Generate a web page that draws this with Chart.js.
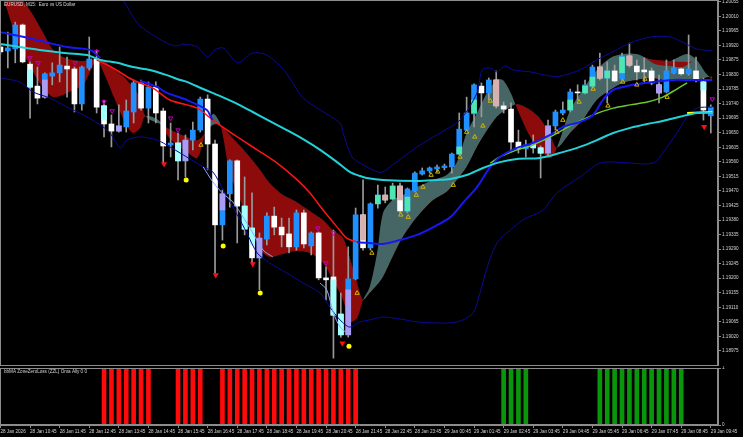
<!DOCTYPE html>
<html>
<head>
<meta charset="utf-8">
<script src="https://cdn.jsdelivr.net/npm/chart.js@4.4.1/dist/chart.umd.min.js"></script>
<style>
  html, body { margin: 0; padding: 0; background: #000; }
  body { width: 743px; height: 437px; position: relative; overflow: hidden; }
  #main { position: absolute; left: 0; top: 0; }
  #sub { position: absolute; left: 0; top: 366px; }
</style>
</head>
<body>
<canvas id="main" width="743" height="366"></canvas>
<canvas id="sub" width="743" height="71"></canvas>
<script>
// EURUSD M15, 28 Jan 09:45 -> 29 Jan 09:45 (index 0..96)
const opens = [1.19915,1.19903,1.19909,1.19983,1.19862,1.19794,1.19760,1.19825,1.19835,1.19856,
  1.19847,1.19739,1.19850,1.19878,1.19733,1.19677,1.19655,1.19668,1.19714,1.19804,
  1.19726,1.19791,1.19717,1.19612,1.19618,1.19563,1.19627,1.19658,1.19754,1.19615,
  1.19365,1.19461,1.19563,1.19423,1.19355,1.19263,1.19321,1.19392,1.19358,1.19337,
  1.19297,1.19402,1.19300,1.19340,1.19201,1.19204,1.19089,1.19025,1.19198,1.19396,
  1.19294,1.19430,1.19457,1.19445,1.19485,1.19408,1.19470,1.19522,1.19532,1.19538,
  1.19542,1.19544,1.19584,1.19658,1.19708,1.19794,1.19773,1.19813,1.19733,1.19723,
  1.19621,1.19600,1.19603,1.19603,1.19587,1.19671,1.19711,1.19720,1.19776,1.19773,
  1.19794,1.19853,1.19819,1.19841,1.19816,1.19887,1.19856,1.19844,1.19841,1.19798,
  1.19776,1.19835,1.19847,1.19832,1.19841,1.19807,1.19702];
const highs = [1.19921,1.19961,1.19992,1.19986,1.19869,1.19853,1.19835,1.19866,1.19915,1.19884,
  1.19853,1.19856,1.19946,1.19906,1.19751,1.19705,1.19736,1.19751,1.19813,1.19813,
  1.19807,1.19807,1.19726,1.19680,1.19649,1.19643,1.19683,1.19760,1.19767,1.19627,
  1.19473,1.19566,1.19566,1.19513,1.19464,1.19340,1.19402,1.19420,1.19386,1.19386,
  1.19411,1.19411,1.19343,1.19343,1.19235,1.19349,1.19154,1.19297,1.19417,1.19504,
  1.19433,1.19488,1.19482,1.19494,1.19494,1.19479,1.19529,1.19541,1.19544,1.19550,
  1.19553,1.19587,1.19711,1.19760,1.19801,1.19804,1.19819,1.19841,1.19745,1.19742,
  1.19658,1.19627,1.19643,1.19609,1.19689,1.19720,1.19745,1.19785,1.19798,1.19813,
  1.19859,1.19896,1.19869,1.19859,1.19896,1.19927,1.19875,1.19881,1.19850,1.19828,
  1.19875,1.19875,1.19850,1.19952,1.19884,1.19819,1.19736];
const lows = [1.19893,1.19850,1.19866,1.19866,1.19695,1.19739,1.19757,1.19798,1.19807,1.19760,
  1.19714,1.19720,1.19844,1.19711,1.19637,1.19606,1.19652,1.19652,1.19680,1.19720,
  1.19680,1.19680,1.19556,1.19575,1.19504,1.19513,1.19597,1.19652,1.19535,1.19216,
  1.19318,1.19420,1.19309,1.19334,1.19247,1.19164,1.19303,1.19334,1.19297,1.19278,
  1.19287,1.19294,1.19272,1.19195,1.19133,1.18953,1.19018,1.19018,1.19195,1.19287,
  1.19287,1.19417,1.19433,1.19442,1.19402,1.19402,1.19467,1.19519,1.19525,1.19529,
  1.19535,1.19525,1.19581,1.19655,1.19668,1.19699,1.19751,1.19726,1.19711,1.19590,
  1.19587,1.19575,1.19587,1.19510,1.19575,1.19658,1.19705,1.19714,1.19751,1.19770,
  1.19788,1.19813,1.19742,1.19807,1.19813,1.19853,1.19813,1.19807,1.19798,1.19742,
  1.19773,1.19832,1.19828,1.19828,1.19807,1.19689,1.19649];
const closes = [1.19900,1.19912,1.19983,1.19869,1.19791,1.19757,1.19832,1.19835,1.19859,1.19847,
  1.19739,1.19853,1.19878,1.19729,1.19677,1.19655,1.19671,1.19717,1.19804,1.19726,
  1.19791,1.19711,1.19609,1.19618,1.19563,1.19627,1.19658,1.19754,1.19615,1.19365,
  1.19461,1.19563,1.19423,1.19352,1.19263,1.19324,1.19392,1.19358,1.19334,1.19297,
  1.19402,1.19306,1.19340,1.19201,1.19195,1.19086,1.19025,1.19198,1.19396,1.19294,
  1.19430,1.19457,1.19442,1.19485,1.19408,1.19476,1.19525,1.19532,1.19541,1.19544,
  1.19547,1.19584,1.19661,1.19711,1.19798,1.19773,1.19813,1.19733,1.19723,1.19621,
  1.19600,1.19612,1.19615,1.19587,1.19671,1.19714,1.19720,1.19776,1.19773,1.19798,
  1.19853,1.19819,1.19841,1.19810,1.19887,1.19859,1.19838,1.19838,1.19804,1.19773,
  1.19841,1.19850,1.19832,1.19847,1.19813,1.19720,1.19729];

const priceTicks = [1.18975,1.19020,1.19065,1.19110,1.19155,1.19200,1.19245,1.19290,1.19335,
  1.19380,1.19425,1.19470,1.19515,1.19560,1.19605,1.19650,1.19695,1.19740,1.19785,1.19830,
  1.19875,1.19920,1.19965,1.20010,1.20055];
const timeLabels = ['28 Jan 2026','28 Jan 10:45','28 Jan 11:45','28 Jan 12:45','28 Jan 13:45',
  '28 Jan 14:45','28 Jan 15:45','28 Jan 16:45','28 Jan 17:45','28 Jan 18:45','28 Jan 19:45',
  '28 Jan 20:45','28 Jan 21:45','28 Jan 22:45','28 Jan 23:45','29 Jan 00:45','29 Jan 01:45',
  '29 Jan 02:45','29 Jan 03:45','29 Jan 04:45','29 Jan 05:45','29 Jan 06:45','29 Jan 07:45',
  '29 Jan 08:45','29 Jan 09:45'];

// indicator lines: [bar index, price]
const cyanMA = [[0,1.19924],[2.6,1.19915],[5.3,1.19906],[9.0,1.19896],[11.7,1.19890],[13.5,1.19875],
  [15.8,1.19866],[17.9,1.19853],[20.2,1.19844],[22.5,1.19828],[24.3,1.19813],[25.2,1.19807],
  [27.4,1.19785],[29.7,1.19763],[32.0,1.19739],[34.1,1.19714],[36.4,1.19686],[38.7,1.19658],
  [40.9,1.19630],[43.2,1.19597],[45.5,1.19559],[47.2,1.19529],[48.6,1.19516],[49.5,1.19510],
  [51.7,1.19504],[56.3,1.19501],[59.0,1.19504],[60.8,1.19507],[63.0,1.19519],[65.2,1.19541],
  [67.5,1.19559],[69.8,1.19569],[72.9,1.19572],[76.0,1.19590],[78.3,1.19606],[80.6,1.19627],
  [82.8,1.19649],[85.1,1.19665],[87.4,1.19677],[89.5,1.19686],[91.8,1.19699],[94.1,1.19711],[96.2,1.19711]];
const blueMA = [[0,1.19961],[4.4,1.19940],[6.7,1.19927],[9.0,1.19915],[12.1,1.19906],[13.5,1.19881],
  [15.2,1.19850],[17.9,1.19813],[18.9,1.19810],[21.2,1.19791],[22.5,1.19773],[25.2,1.19751],
  [27.9,1.19720],[28.7,1.19689],[32.0,1.19637],[34.7,1.19597],[37.4,1.19556],[40.1,1.19504],
  [41.8,1.19464],[43.6,1.19411],[45.5,1.19358],[46.8,1.19324],[48.2,1.19312],[49.9,1.19309],
  [51.7,1.19306],[54.0,1.19318],[56.3,1.19334],[58.5,1.19358],[60.8,1.19389],[62.5,1.19433],
  [64.4,1.19482],[66.2,1.19544],[67.5,1.19575],[69.8,1.19603],[71.6,1.19615],[74.3,1.19643],
  [76.0,1.19668],[78.3,1.19683],[80.1,1.19705],[81.4,1.19751],[82.8,1.19782],[85.5,1.19798],
  [88.2,1.19807],[90.9,1.19813],[93.2,1.19813],[96.2,1.19813]];
// stretches where the red MA is drawn over the blue one
const redOverBlue = [[13.0, 18.9], [28.7, 48.2]];
const redMA = [[13.0,1.19875],[15.2,1.19850],[17.9,1.19813],[20.6,1.19788],[22.9,1.19751],
  [26.6,1.19726],[28.7,1.19689],[32.0,1.19637],[34.7,1.19597],[37.4,1.19556],[40.1,1.19504],
  [41.8,1.19464],[43.6,1.19411],[45.5,1.19358],[46.8,1.19324],[48.2,1.19312]];
const greenMA = [[66.2,1.19556],[67.5,1.19575],[69.8,1.19597],[71.6,1.19609],[74.3,1.19637],
  [77.0,1.19671],[80.1,1.19705],[82.8,1.19726],[85.1,1.19736],[87.4,1.19745],[89.5,1.19760],
  [91.4,1.19785],[92.8,1.19804]];
const yellowMA = [[92.8,1.19711],[96.2,1.19714]];
// thin fast line through the falling candles (null = gap)
const fastLine = [[27.4,1.19544],[28.7,1.19498],[30.1,1.19461],[31.4,1.19436],[32.8,1.19389],
  [34.1,1.19340],[35.5,1.19287],[36.8,1.19266],[39.0,null],[43.2,1.19185],[44.1,1.19164],
  [45.0,1.19093],[45.9,1.19049],[46.8,1.19031]];
const bbUpper = [[16.6,1.20060],[18.5,1.19989],[20.2,1.19958],[22.5,1.19927],[23.7,1.19918],
  [24.7,1.19924],[26.6,1.19915],[28.0,1.19884],[29.0,1.19906],[30.1,1.19912],[32.1,1.19866],
  [34.0,1.19896],[36.0,1.19890],[38.5,1.19838],[40.8,1.19760],[43.2,1.19720],[45.9,1.19680],
  [46.3,1.19649],[47.5,1.19575],[48.6,1.19556],[50.9,1.19529],[51.7,1.19529],[53.0,1.19550],
  [56.3,1.19606],[59.4,1.19649],[62.1,1.19689],[64.4,1.19773],[65.1,1.19844],[66.2,1.19850],
  [67.1,1.19838],[68.2,1.19856],[69.3,1.19844],[71.6,1.19838],[74.3,1.19825],[75.6,1.19825],
  [78.3,1.19844],[80.6,1.19875],[82.4,1.19896],[85.1,1.19927],[87.8,1.19946],[90.5,1.19946],
  [92.2,1.19930],[94.1,1.19909],[96.2,1.19903]];
const bbLower = [[0,1.19819],[2.6,1.19807],[4.4,1.19776],[6.7,1.19757],[9.0,1.19729],[11.2,1.19705],
  [13.5,1.19674],[14.8,1.19649],[16.2,1.19603],[17.1,1.19627],[18.9,1.19637],[21.2,1.19627],
  [22.9,1.19606],[24.3,1.19587],[27.4,1.19544],[28.7,1.19529],[30.1,1.19473],[32.0,1.19396],
  [33.3,1.19340],[34.7,1.19278],[36.4,1.19247],[38.7,1.19216],[40.9,1.19185],[43.2,1.19154],
  [44.5,1.19111],[45.9,1.19071],[47.2,1.19049],[48.6,1.19065],[49.9,1.19071],[51.7,1.19080],
  [54.0,1.19074],[56.3,1.19065],[58.5,1.19062],[60.8,1.19062],[62.5,1.19071],[63.9,1.19093],
  [64.8,1.19154],[65.8,1.19235],[67.1,1.19309],[68.9,1.19349],[70.6,1.19380],[73.3,1.19411],
  [75.2,1.19464],[78.3,1.19513],[81.0,1.19556],[83.3,1.19559],[85.1,1.19556],[88.2,1.19556],
  [89.5,1.19587],[91.4,1.19649],[92.8,1.19699],[94.1,1.19726],[96.2,1.19729]];

// cloud between a fast and a slow line (red when fast is below, grey when above)
const cloudSlow = [[0,1.20153],[1.0,1.20097],[2.2,1.20073],[3.0,1.20060],[4.4,1.20014],[5.8,1.19958],
  [7.1,1.19906],[8.5,1.19884],[9.8,1.19875],[11.2,1.19872],[12.1,1.19875],[13.0,1.19878],
  [14.1,1.19869],[15.5,1.19844],[16.8,1.19819],[17.9,1.19791],[18.9,1.19757],[19.5,1.19705],
  [20.5,1.19686],[21.6,1.19677],[22.5,1.19665],[23.9,1.19649],[25.2,1.19637],[26.6,1.19627],
  [27.6,1.19646],[28.7,1.19674],[29.7,1.19674],[31.0,1.19643],[32.4,1.19609],[33.7,1.19575],
  [35.1,1.19535],[36.4,1.19494],[38.2,1.19457],[39.8,1.19439],[41.8,1.19408],[43.6,1.19380],
  [44.9,1.19349],[46.3,1.19324],[47.2,1.19263],[48.2,1.19185],[49.0,1.19133],[49.9,1.19154],
  [50.9,1.19179],[51.7,1.19204],[53.0,1.19266],[54.4,1.19328],[56.3,1.19389],[58.5,1.19442],
  [60.3,1.19467],[61.7,1.19504],[63.0,1.19544],[64.4,1.19606],[65.8,1.19658],[67.1,1.19699],
  [67.9,1.19714],[68.9,1.19729],[69.8,1.19739],[70.6,1.19733],[71.6,1.19720],[72.9,1.19695],
  [74.3,1.19643],[75.2,1.19603],[77.0,1.19649],[78.7,1.19689],[80.6,1.19751],[82.4,1.19782],
  [84.1,1.19804],[86.0,1.19813],[87.8,1.19819],[89.5,1.19813],[91.4,1.19813],[92.8,1.19813],
  [94.1,1.19813],[95.2,1.19819],[96.2,1.19825]];
const cloudFast = [[0,1.20091],[1.0,1.20023],[2.2,1.19937],[3.0,1.19900],[4.4,1.19838],[5.8,1.19788],
  [7.1,1.19760],[8.5,1.19767],[9.8,1.19782],[11.2,1.19798],[12.1,1.19838],[13.0,1.19875],
  [14.1,1.19828],[15.5,1.19751],[16.8,1.19683],[17.9,1.19649],[18.9,1.19665],[19.5,1.19699],
  [20.5,1.19699],[21.6,1.19683],[22.5,1.19643],[23.9,1.19612],[25.2,1.19590],[26.6,1.19572],
  [27.6,1.19643],[28.7,1.19708],[29.7,1.19677],[31.0,1.19525],[32.4,1.19442],[33.7,1.19358],
  [35.1,1.19287],[36.4,1.19266],[38.2,1.19275],[39.8,1.19284],[41.8,1.19278],[43.6,1.19247],
  [44.9,1.19195],[46.3,1.19133],[47.2,1.19065],[48.2,1.19077],[49.0,1.19133],[49.9,1.19173],
  [50.9,1.19278],[51.7,1.19402],[53.0,1.19442],[54.4,1.19457],[56.3,1.19482],[58.5,1.19504],
  [60.3,1.19519],[61.7,1.19559],[63.0,1.19649],[64.4,1.19711],[65.8,1.19776],[67.1,1.19813],
  [67.9,1.19813],[68.9,1.19776],[69.8,1.19726],[70.6,1.19683],[71.6,1.19637],[72.9,1.19597],
  [74.3,1.19572],[75.2,1.19603],[77.0,1.19720],[78.7,1.19782],[80.6,1.19844],[82.4,1.19881],
  [84.1,1.19893],[86.0,1.19893],[87.8,1.19875],[89.5,1.19862],[91.4,1.19881],[92.8,1.19893],
  [94.1,1.19875],[95.2,1.19838],[96.2,1.19813]];
const thinCloudTop = [[87.1,1.19881],[88.5,1.19875],[90.5,1.19872],[92.2,1.19869],[93.5,1.19869]];
const thinCloudBottom = [[87.1,1.19881],[88.5,1.19862],[90.5,1.19856],[92.2,1.19853],[93.5,1.19869]];

// tinted candle bodies: [bar index, from, to]
const cyanTint = [[4,1.19844,1.19791],[14,1.19733,1.19689],[24,1.19618,1.19563],[33,1.19423,1.19352],
  [34,1.19355,1.19303],[45,1.19195,1.19086],[46,1.19089,1.19025],[72,1.19615,1.19603],
  [73,1.19603,1.19587],[95,1.19807,1.19782]];
const aquaTint = [[51,1.19457,1.19430],[53,1.19485,1.19445],[55,1.19451,1.19408],[62,1.19606,1.19584],
  [64,1.19751,1.19711],[77,1.19751,1.19720],[79,1.19794,1.19773],[80,1.19822,1.19794],
  [82,1.19841,1.19819],[84,1.19884,1.19835]];
const lilacTint = [[6,1.19813,1.19760],[16,1.19671,1.19655],[25,1.19627,1.19563],[30,1.19461,1.19411],
  [35,1.19324,1.19263],[47,1.19164,1.19025],[74,1.19671,1.19587],[89,1.19798,1.19773]];
const pinkTint = [[49,1.19396,1.19318],[52,1.19457,1.19442],[54,1.19485,1.19442],[67,1.19813,1.19733],
  [81,1.19853,1.19819],[85,1.19887,1.19859]];

// signal markers: [bar index, price]
const yellowDots = [[25.1,1.19504],[30.1,1.19300],[35.1,1.19154],[47.1,1.18990]];
const redArrows = [[22.1,1.19553],[29.1,1.19210],[34.1,1.19244],[46.2,1.18999],[95.1,1.19668]];
const buyArrows = [[27.1,1.19612],[48.2,1.19154],[50.2,1.19278],[54.1,1.19396],[55.1,1.19389],
  [56.2,1.19457],[57.1,1.19482],[58.2,1.19519],[59.1,1.19529],[61.2,1.19488],[62.1,1.19575],
  [63.0,1.19652],[64.1,1.19637],[65.2,1.19671],[66.2,1.19748],[75.2,1.19652],[76.0,1.19689],
  [78.2,1.19745],[80.1,1.19785],[82.1,1.19733],[84.1,1.19807],[86.0,1.19798],[87.1,1.19816],[90.1,1.19760]];
const sellArrows = [[4.0,1.19881],[5.1,1.19866],[10.1,1.19866],[13.0,1.19900],[14.0,1.19745],
  [15.1,1.19717],[23.0,1.19695],[24.0,1.19658],[42.9,1.19355],[44.0,1.19247],[45.0,1.19340],[96.2,1.19754]];

// lower window: ZZL histogram bars (value 1)
const zzlSellIdx = [14,15,16,17,18,19,20,24,25,26,27,30,31,32,33,34,35,36,37,38,39,40,41,42,43,44,45,46,47,48];
const zzlBuyIdx = [68,69,70,71,81,82,83,84,85,86,87,88,89,90,91,92];

const bullColor = "#1E90FF";
const bearColor = "#FFFFFF";
const axisColor = "#8c8c8c";
const textColor = "#d4d4d4";
const fontFamily = "'Liberation Sans', Arial, sans-serif";

Chart.defaults.font.family = fontFamily;

const pts = (list) => list.map((p) => ({ x: p[0], y: p[1] }));
const tints = (list) => list.map((p) => ({ x: p[0], y: [p[1], p[2]] }));

// frame + window caption
const framePlugin = {
  id: "frame",
  afterDatasetsDraw(chart, args, opts) {
    const { ctx, chartArea: a } = chart;
    ctx.save();
    ctx.strokeStyle = axisColor;
    ctx.lineWidth = 1;
    ctx.strokeRect(a.left + 0.5, a.top + 0.5, a.right - a.left - 1, a.bottom - a.top - 1);
    if (opts.text) {
      ctx.fillStyle = textColor;
      ctx.font = "4.6px " + fontFamily;
      ctx.textBaseline = "middle";
      ctx.fillText(opts.text, a.left + 4, a.top + opts.dy);
    }
    ctx.restore();
  },
};

function lineSet(label, data, color, width, order) {
  return {
    type: "line", label: label, data: pts(data), borderColor: color, borderWidth: width,
    pointRadius: 0, tension: 0.3, fill: false, order: order,
  };
}
function markerSet(label, data, style, opts) {
  return Object.assign({
    type: "line", label: label, data: pts(data), showLine: false, pointStyle: style,
    order: 0,
  }, opts);
}
function tintSet(label, data, color) {
  return {
    type: "bar", label: label, data: tints(data), backgroundColor: color,
    barThickness: 5, grouped: false, order: 6, borderWidth: 0,
  };
}

const blueLine = lineSet("blueMA", blueMA, "#1818F0", 2, 3);
blueLine.segment = {
  borderColor: (c) => redOverBlue.some((r) => c.p0.parsed.x >= r[0] && c.p1.parsed.x <= r[1])
    ? "rgba(0,0,0,0)" : undefined,
};

const xScale = {
  type: "linear", min: -0.06, max: 96.97, offset: false,
  grid: { display: false, offset: false },
};

// main price window
new Chart(document.getElementById("main"), {
  type: "bar",
  data: {
    datasets: [
      { type: "line", label: "cloudSlow", data: pts(cloudSlow), borderWidth: 0, pointRadius: 0,
        tension: 0.3, fill: false, order: 10 },
      { type: "line", label: "cloudFast", data: pts(cloudFast), borderWidth: 0, pointRadius: 0,
        tension: 0.3, order: 10,
        fill: { target: 0, above: "#466666", below: "#8E0B0B" } },
      { type: "line", label: "thinTop", data: pts(thinCloudTop), borderWidth: 0, pointRadius: 0,
        tension: 0.3, fill: false, order: 9 },
      { type: "line", label: "thinBottom", data: pts(thinCloudBottom), borderWidth: 0, pointRadius: 0,
        tension: 0.3, order: 9,
        fill: { target: 2, above: "#8E0B0B", below: "#8E0B0B" } },
      { type: "bar", label: "wicks", data: opens.map((o, i) => ({ x: i, y: [lows[i], highs[i]] })),
        backgroundColor: "#9a9a9a", barThickness: 1, grouped: false, order: 8, borderWidth: 0 },
      { type: "bar", label: "bodies", data: opens.map((o, i) => ({ x: i, y: [o, closes[i]] })),
        backgroundColor: opens.map((o, i) => (closes[i] >= o ? bullColor : bearColor)),
        barThickness: 5, minBarLength: 1, grouped: false, order: 7, borderWidth: 0 },
      tintSet("cyanTint", cyanTint, "#A6FFFF"),
      tintSet("aquaTint", aquaTint, "#4FE6B4"),
      tintSet("lilacTint", lilacTint, "#A99CF2"),
      tintSet("pinkTint", pinkTint, "#D9B0B0"),
      lineSet("bbUpper", bbUpper, "#0A0A9A", 1, 5),
      lineSet("bbLower", bbLower, "#0A0A9A", 1, 5),
      lineSet("redMA", redMA, "#FF1414", 1.5, 4),
      blueLine,
      lineSet("greenMA", greenMA, "#6CC82C", 1.5, 4),
      lineSet("fastLine", fastLine, "#8FA8FF", 1, 2),
      lineSet("cyanMA", cyanMA, "#22D2D8", 2, 2),
      lineSet("yellowMA", yellowMA, "#FFFF00", 2, 2),
      markerSet("yellowDots", yellowDots, "circle",
        { pointRadius: 2.5, pointBackgroundColor: "#FFFF00", pointBorderWidth: 0 }),
      markerSet("redArrows", redArrows, "triangle",
        { pointRadius: 3.5, pointRotation: 180, pointBackgroundColor: "#FF1010", pointBorderWidth: 0 }),
      markerSet("buyArrows", buyArrows, "triangle",
        { pointRadius: 2.5, pointBackgroundColor: "rgba(0,0,0,0)", pointBorderColor: "#D2B400", pointBorderWidth: 1 }),
      markerSet("sellArrows", sellArrows, "triangle",
        { pointRadius: 2.5, pointRotation: 180, pointBackgroundColor: "rgba(0,0,0,0)", pointBorderColor: "#C000C0", pointBorderWidth: 1 }),
    ],
  },
  options: {
    responsive: false, animation: false, devicePixelRatio: 1, events: [],
    layout: { autoPadding: false, padding: 0 },
    plugins: {
      legend: { display: false }, tooltip: { enabled: false },
      frame: { text: "EURUSD, M15:  Euro vs US Dollar", dy: 4.5 },
    },
    scales: {
      x: Object.assign({ display: false }, xScale),
      y: {
        type: "linear", position: "right", min: 1.189286, max: 1.200603,
        afterBuildTicks: (axis) => { axis.ticks = priceTicks.map((v) => ({ value: v })); },
        afterFit: (axis) => { axis.width = 25; axis.paddingTop = 0; axis.paddingBottom = 0; },
        ticks: { callback: (v) => v.toFixed(5), color: textColor, font: { size: 4.6 }, padding: 1 },
        grid: { drawOnChartArea: false, drawTicks: true, tickLength: 3, color: axisColor },
        border: { display: true, color: axisColor },
      },
    },
  },
  plugins: [framePlugin],
});

// lower ZZL window with time axis
new Chart(document.getElementById("sub"), {
  type: "bar",
  data: {
    datasets: [
      { label: "ZZL sell", data: zzlSellIdx.map((i) => ({ x: i, y: 1 })), backgroundColor: "#FF0A0A",
        barThickness: 4, grouped: false, borderWidth: 0 },
      { label: "ZZL buy", data: zzlBuyIdx.map((i) => ({ x: i, y: 1 })), backgroundColor: "#0A960A",
        barThickness: 4, grouped: false, borderWidth: 0 },
    ],
  },
  options: {
    responsive: false, animation: false, devicePixelRatio: 1, events: [],
    layout: { autoPadding: false, padding: { top: 2 } },
    plugins: {
      legend: { display: false }, tooltip: { enabled: false },
      frame: { text: "bbMA ZoneZeroLoss (ZZL) Oma Ally 0 0", dy: 3.5 },
    },
    scales: {
      x: Object.assign({}, xScale, {
        afterBuildTicks: (axis) => { axis.ticks = timeLabels.map((t, k) => ({ value: k * 4 })); },
        afterFit: (axis) => { axis.height = 12; axis.paddingLeft = 0; axis.paddingRight = 0; },
        ticks: { callback: (v, k) => timeLabels[k], align: "start", autoSkip: false, maxRotation: 0,
          color: textColor, font: { size: 4.6 }, padding: 1 },
        grid: { display: true, drawOnChartArea: false, drawTicks: true, tickLength: 3, color: axisColor, offset: false },
        border: { display: true, color: axisColor },
      }),
      y: {
        type: "linear", position: "right", min: 0, max: 1,
        afterBuildTicks: (axis) => { axis.ticks = [{ value: 0 }, { value: 1 }]; },
        afterFit: (axis) => { axis.width = 25; axis.paddingTop = 0; axis.paddingBottom = 0; },
        ticks: { callback: (v) => String(v), color: textColor, font: { size: 4.6 }, padding: 1 },
        grid: { drawOnChartArea: false, drawTicks: true, tickLength: 3, color: axisColor },
        border: { display: true, color: axisColor },
      },
    },
  },
  plugins: [framePlugin],
});
</script>
</body>
</html>
